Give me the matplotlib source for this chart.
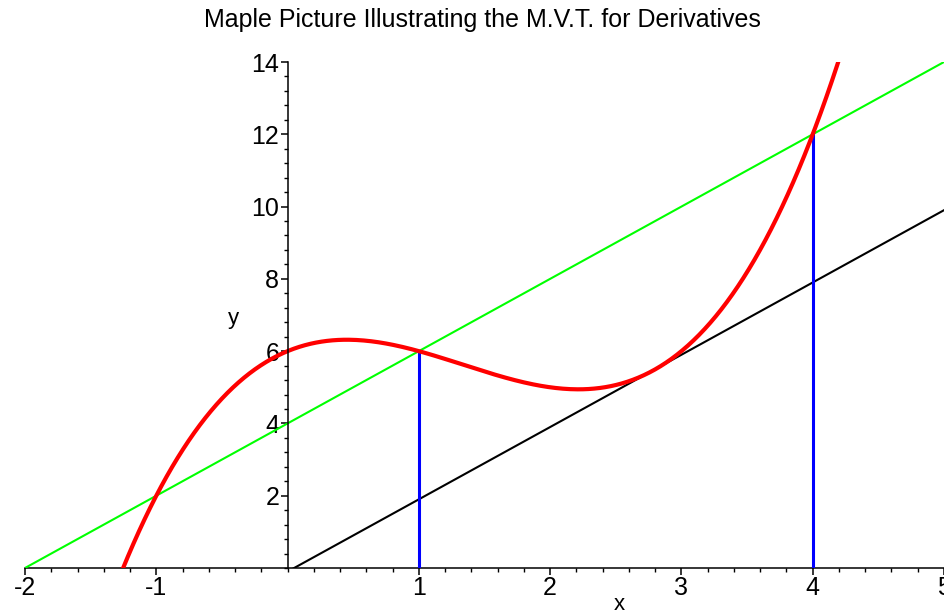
import numpy as np
import matplotlib
matplotlib.use("Agg")
import matplotlib.pyplot as plt
from matplotlib.ticker import MultipleLocator, FixedLocator

# Data
curve_coeffs = [0.5, -2.0, 1.5, 6.0]   # f(x) = 0.5x^3 - 2x^2 + 1.5x + 6
curve_x_range = [-1.3, 4.3]
secant_slope, secant_intercept = 2.0, 4.0
secant_x_range = [-2.0, 5.0]
tangent_slope, tangent_intercept = 2.0, -0.1
tangent_x_range = [0.0, 5.0]
vert_x = [1, 4]
vert_top = [6, 12]
x_ticks = [-2, -1, 1, 2, 3, 4, 5]
y_ticks = [2, 4, 6, 8, 10, 12, 14]

plt.rcParams['font.family'] = ['Liberation Sans', 'DejaVu Sans']

fig = plt.figure(figsize=(9.45, 6.13), dpi=100)
ax = fig.add_axes([25/945, 45/613, 919/945, (568-62)/613])
ax.set_xlim(-2, 5)
ax.set_ylim(0, 14)

xs = np.linspace(curve_x_range[0], curve_x_range[1], 400)
ax.plot(xs, np.polyval(curve_coeffs, xs), color='#ff0000', lw=3.0, zorder=4)
sx = np.array(secant_x_range)
ax.plot(sx, secant_slope*sx + secant_intercept, color='#00ff00', lw=1.5, zorder=3)
tx = np.array(tangent_x_range)
ax.plot(tx, tangent_slope*tx + tangent_intercept, color='black', lw=1.5, zorder=3)
for xv, yt in zip(vert_x, vert_top):
    ax.plot([xv, xv], [0, yt], color='#0000ff', lw=2.2, zorder=3)

for s in ['top', 'right']:
    ax.spines[s].set_visible(False)
ax.spines['left'].set_position(('data', 0))
ax.spines['bottom'].set_position(('data', 0))
ax.spines['left'].set_linewidth(1.1)
ax.spines['bottom'].set_linewidth(1.1)
ax.spines['left'].set_zorder(5)

ax.xaxis.set_major_locator(FixedLocator(x_ticks))
ax.yaxis.set_major_locator(FixedLocator(y_ticks))
ax.xaxis.set_minor_locator(MultipleLocator(0.2))
ax.yaxis.set_minor_locator(MultipleLocator(0.4))
ax.set_xticklabels([str(t) for t in x_ticks])
ax.set_yticklabels([str(t) for t in y_ticks])
ax.tick_params(axis='both', which='major', direction='out', length=5, width=1.1,
               labelsize=18, pad=1)
ax.tick_params(axis='both', which='minor', direction='out', length=3, width=1.0)

fig.text(0.511, 1 - 20/613, 'Maple Picture Illustrating the M.V.T. for Derivatives',
         fontsize=18, ha='center', va='center')
ax.text(2.53, -1.0, 'x', fontsize=16, ha='center', va='center')
ax.text(-0.41, 6.9, 'y', fontsize=16, ha='center', va='center')

fig.savefig('out.png', dpi=100)
